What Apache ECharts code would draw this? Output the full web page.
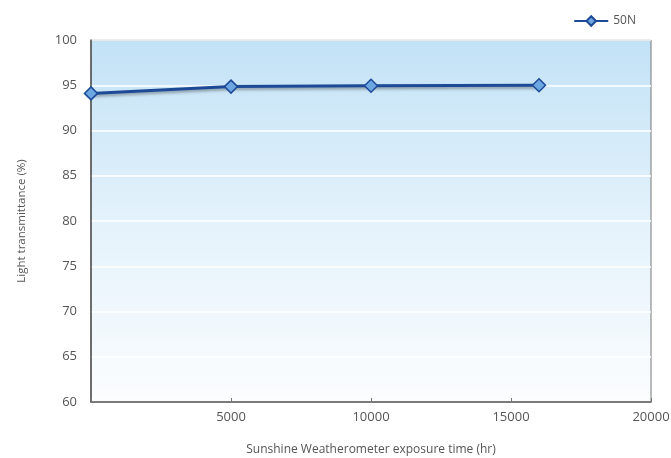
<!DOCTYPE html>
<html><head><meta charset="utf-8">
<script src="https://cdn.jsdelivr.net/npm/echarts@6/dist/echarts.min.js"></script>
<style>html,body{margin:0;padding:0;background:#fff}#c{width:671px;height:458px}</style>
</head><body><div id="c"></div>
<script>
const seriesName = '50N';
const hours = [0, 5000, 10000, 16000];
const transmittance = [94.1, 94.85, 94.95, 95.0];
const yTicks = [60, 65, 70, 75, 80, 85, 90, 95, 100];
const xTicks = [5000, 10000, 15000, 20000];

const chart = echarts.init(document.getElementById('c'));
chart.setOption({
  animation: false,
  textStyle: {fontFamily: 'Open Sans, DejaVu Sans, sans-serif'},
  legend: {
    right: 30, top: 10, itemWidth: 34, itemHeight: 12, itemGap: 4,
    textStyle: {color: '#555', fontSize: 12},
    data: [seriesName]
  },
  grid: {
    left: 91, right: 20, top: 40, bottom: 56, show: true,
    outerBoundsMode: 'none', containLabel: false,
    borderColor: '#777', borderWidth: 1,
    backgroundColor: {type: 'linear', x: 0, y: 0, x2: 0, y2: 1,
      colorStops: [{offset: 0, color: '#c2e2f6'}, {offset: 0.5, color: '#e4f2fb'}, {offset: 1, color: '#fbfdfe'}]}
  },
  xAxis: {
    type: 'value', min: 0, max: 20000, interval: 5000,
    name: 'Sunshine Weatherometer exposure time (hr)',
    nameLocation: 'middle', nameGap: 42,
    nameTextStyle: {color: '#555', fontSize: 12},
    axisLine: {lineStyle: {color: '#555', width: 1.5}},
    axisTick: {show: true, inside: true, length: 4, lineStyle: {color: '#777'}},
    axisLabel: {color: '#555', fontSize: 13, margin: 9,
      formatter: v => xTicks.includes(v) ? String(v) : ''},
    splitLine: {show: false}
  },
  yAxis: {
    type: 'value', min: 60, max: 100, interval: 5,
    name: 'Light transmittance (%)',
    nameLocation: 'middle', nameGap: 63,
    nameTextStyle: {color: '#555', fontSize: 11.5},
    axisLine: {show: true, lineStyle: {color: '#555', width: 1.5}},
    axisTick: {show: false},
    axisLabel: {color: '#555', fontSize: 13, margin: 14,
      formatter: v => yTicks.includes(v) ? String(v) : ''},
    splitLine: {show: true, lineStyle: {color: '#ffffff', width: 1.5}}
  },
  series: [{
    name: seriesName, type: 'line',
    data: hours.map((h, i) => [h, transmittance[i]]),
    symbol: 'diamond', symbolSize: 13,
    lineStyle: {color: '#1d4a96', width: 3, shadowColor: 'rgba(0,0,0,0.35)', shadowBlur: 3, shadowOffsetY: 2},
    itemStyle: {color: '#6da7e2', borderColor: '#1d4a96', borderWidth: 1.5},
    z: 3
  }]
});
</script></body></html>
